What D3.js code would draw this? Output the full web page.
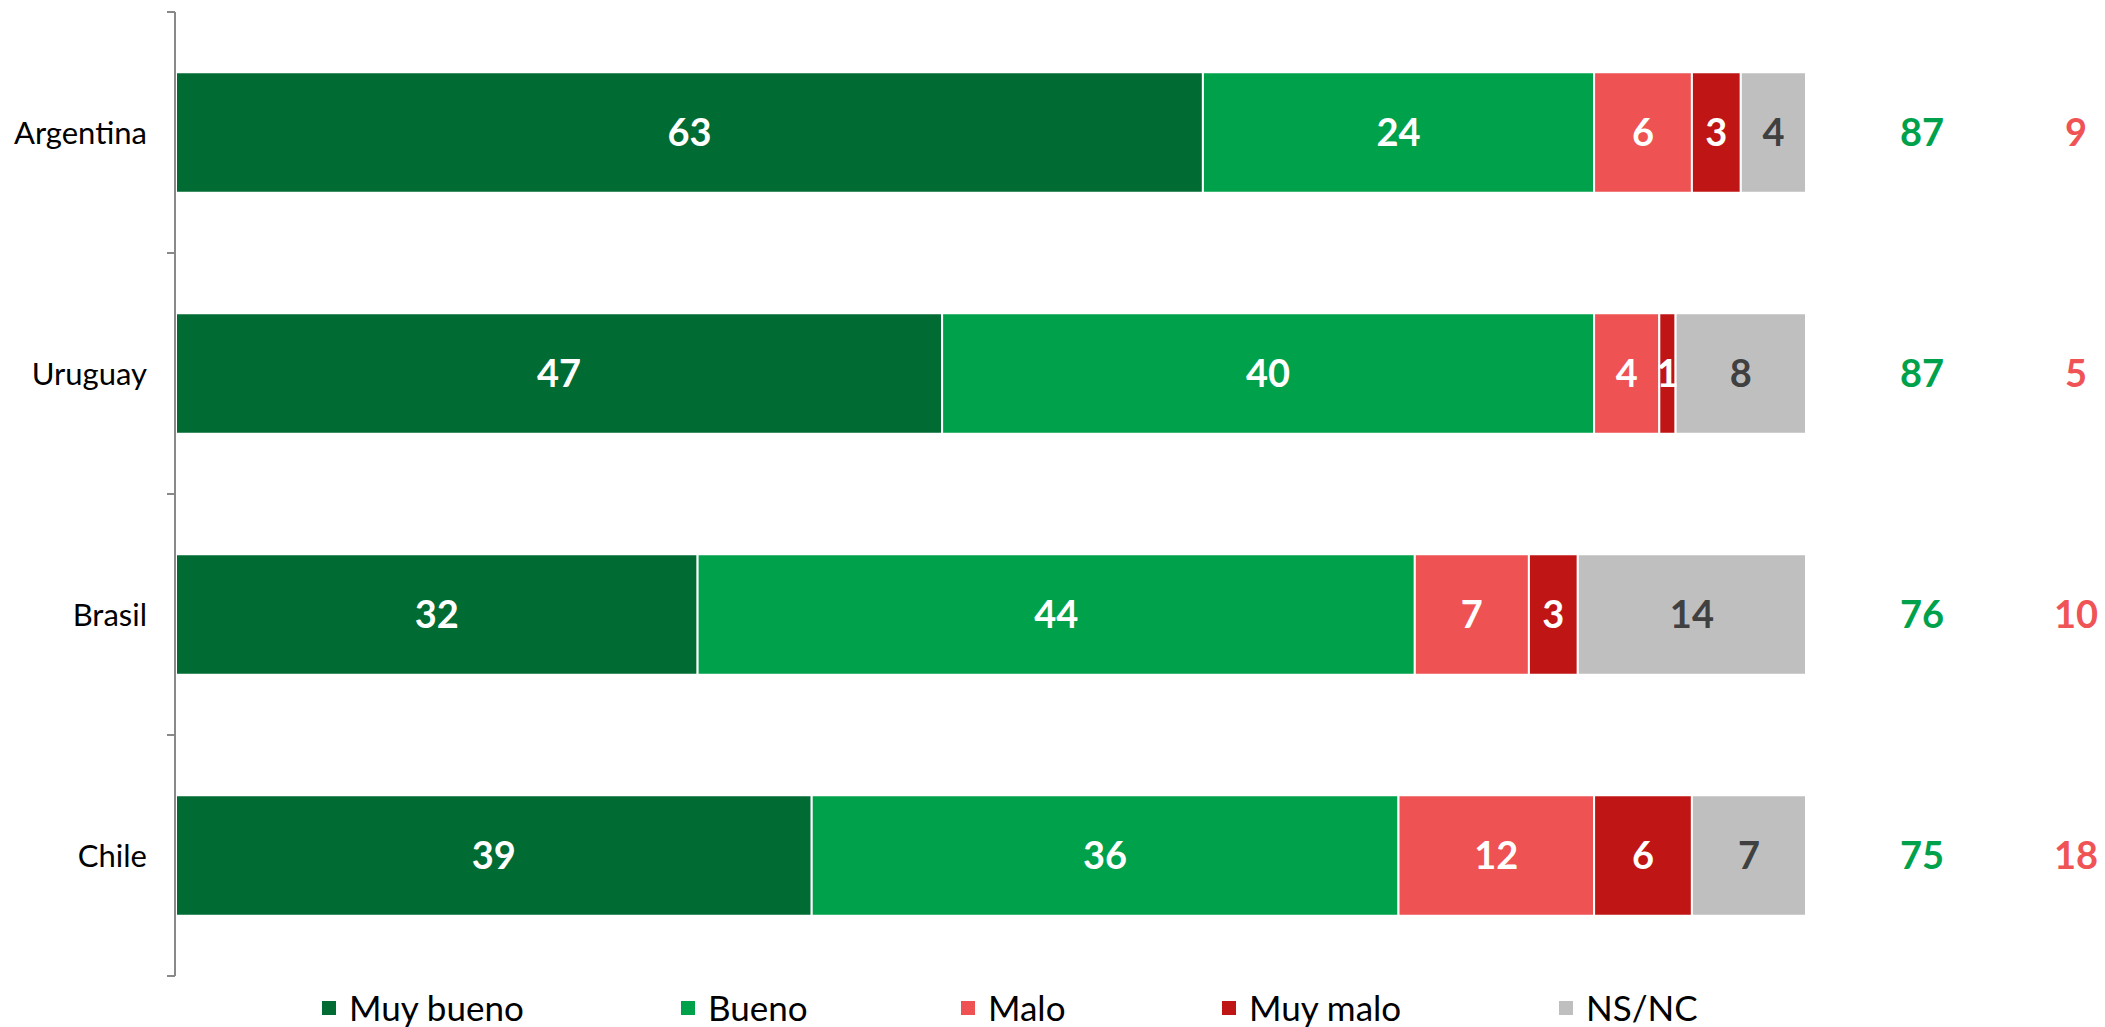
<!DOCTYPE html>
<html><head><meta charset="utf-8">
<script src="https://cdn.jsdelivr.net/npm/d3@7"></script>
<style>html,body{margin:0;padding:0;background:#fff;}svg{display:block;}</style>
</head><body>
<script>
const countries = ["Argentina", "Uruguay", "Brasil", "Chile"];
const seriesNames = ["Muy bueno", "Bueno", "Malo", "Muy malo", "NS/NC"];
const muyBueno = [63, 47, 32, 39];
const bueno = [24, 40, 44, 36];
const malo = [6, 4, 7, 12];
const muyMalo = [3, 1, 3, 6];
const nsnc = [4, 8, 14, 7];
const totalPositivo = [87, 87, 76, 75];
const totalNegativo = [9, 5, 10, 18];

const colors = ["#006B33", "#00A14B", "#EE5253", "#C01515", "#BFBFBF"];
const labelColors = ["#fff", "#fff", "#fff", "#fff", "#404040"];
const FONT = "Lato, 'Open Sans', sans-serif";

const W = 2105, H = 1027;
const svg = d3.select("body").append("svg").attr("width", W).attr("height", H);

const rows = countries.map((c, i) => ({country: c, "Muy bueno": muyBueno[i], "Bueno": bueno[i], "Malo": malo[i], "Muy malo": muyMalo[i], "NS/NC": nsnc[i]}));
const stack = d3.stack().keys(seriesNames)(rows);

const x = d3.scaleLinear().domain([0, 100]).range([176, 1806]);
const y = d3.scaleBand().domain(countries).range([12, 976]).paddingInner(0.5).paddingOuter(0.25);

// bars
const layers = svg.append("g").selectAll("g").data(stack).join("g").attr("fill", (d, i) => colors[i]);
layers.selectAll("rect").data(d => d).join("rect")
  .attr("x", d => x(d[0])).attr("width", d => x(d[1]) - x(d[0]))
  .attr("y", d => y(d.data.country)).attr("height", y.bandwidth())
  .attr("stroke", "#fff").attr("stroke-width", 2);

// labels in bars
const lab = svg.append("g");
stack.forEach((layer, si) => {
  lab.selectAll(null).data(layer).join("text")
    .attr("x", d => (x(d[0]) + x(d[1])) / 2)
    .attr("y", d => y(d.data.country) + y.bandwidth() / 2)
    .attr("dy", "0.36em")
    .attr("text-anchor", "middle")
    .attr("font-family", FONT).attr("font-weight", "bold").attr("font-size", 38)
    .attr("fill", labelColors[si])
    .text(d => d[1] - d[0]);
});

// axis
const axisG = svg.append("g");
const step = y.step();
const bounds = d3.range(countries.length + 1).map(i => y.range()[0] + i * step);
axisG.append("line").attr("x1", 175).attr("x2", 175).attr("y1", bounds[0]).attr("y2", bounds[bounds.length - 1])
  .attr("stroke", "#898989").attr("stroke-width", 2);
axisG.selectAll(".tk").data(bounds).join("line").attr("class", "tk")
  .attr("x1", 167).attr("x2", 175).attr("y1", d => d).attr("y2", d => d)
  .attr("stroke", "#898989").attr("stroke-width", 2);
axisG.selectAll(".cl").data(countries).join("text").attr("class", "cl")
  .attr("x", 147).attr("y", d => y(d) + y.bandwidth() / 2).attr("dy", "0.36em")
  .attr("text-anchor", "end").attr("font-family", FONT).attr("font-size", 31).attr("fill", "#000")
  .text(d => d);

// totals
svg.append("g").selectAll("text").data(totalPositivo).join("text")
  .attr("x", 1922).attr("y", (d, i) => y(countries[i]) + y.bandwidth() / 2).attr("dy", "0.36em")
  .attr("text-anchor", "middle").attr("font-family", FONT).attr("font-weight", "bold").attr("font-size", 38)
  .attr("fill", "#00A14B").text(d => d);
svg.append("g").selectAll("text").data(totalNegativo).join("text")
  .attr("x", 2076).attr("y", (d, i) => y(countries[i]) + y.bandwidth() / 2).attr("dy", "0.36em")
  .attr("text-anchor", "middle").attr("font-family", FONT).attr("font-weight", "bold").attr("font-size", 38)
  .attr("fill", "#EF5355").text(d => d);

// legend
const legendX = [322, 681, 961, 1222, 1559];
const leg = svg.append("g");
const items = leg.selectAll("g").data(seriesNames).join("g")
  .attr("transform", (d, i) => `translate(${legendX[i]},1008)`);
items.append("rect").attr("width", 14).attr("height", 14).attr("y", -7).attr("fill", (d, i) => colors[i]);
items.append("text").attr("x", 27).attr("dy", "0.36em").attr("font-family", FONT).attr("font-size", 35).attr("fill", "#000").text(d => d);
</script>
</body></html>
